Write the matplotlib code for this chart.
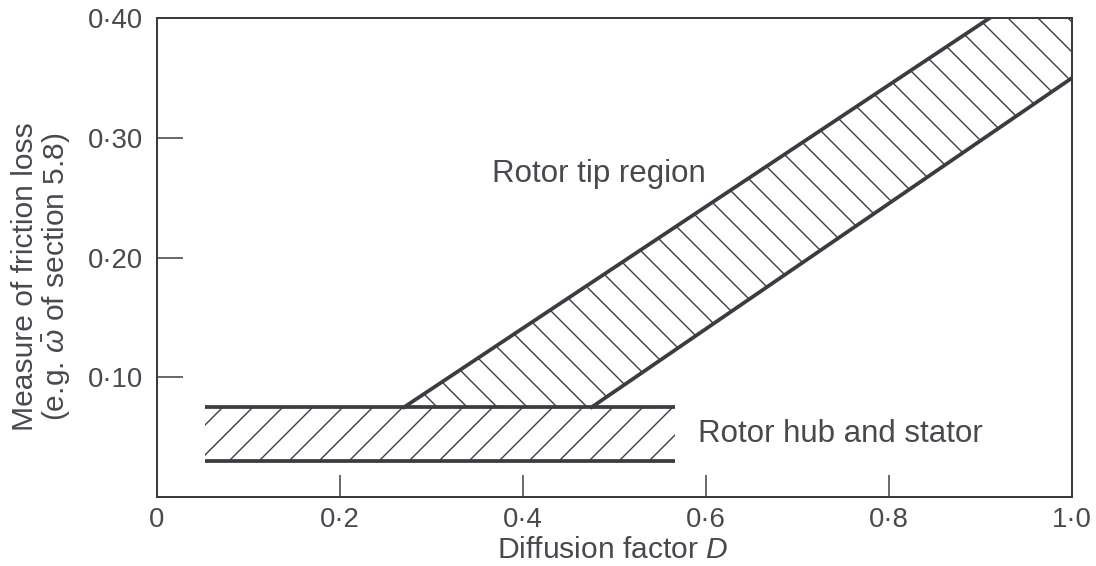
import matplotlib.pyplot as plt

# ------------------------------------------------------------
# Data
# ------------------------------------------------------------

# rotor hub and stator band (constant loss over a range of D)
HUB_D = [0.052, 0.566]
HUB_LOW = [0.030, 0.030]
HUB_HIGH = [0.075, 0.075]

# rotor tip band: two roughly parallel edges, starting at the hub band top
TIP_UPPER_D = [0.27, 0.91]
TIP_UPPER_LOSS = [0.075, 0.40]
TIP_LOWER_D = [0.475, 1.0]
TIP_LOWER_LOSS = [0.075, 0.35]

X_TICKS = [0.0, 0.2, 0.4, 0.6, 0.8, 1.0]
X_LABELS = ["0", "0·2", "0·4", "0·6", "0·8", "1·0"]
Y_TICKS = [0.10, 0.20, 0.30, 0.40]
Y_LABELS = ["0·10", "0·20", "0·30", "0·40"]

INK = "#3b3b42"
TEXT = "#48484e"

DPI = 180

plt.rcParams["font.family"] = ["Liberation Sans", "DejaVu Sans"]
plt.rcParams["mathtext.fontset"] = "custom"
plt.rcParams["mathtext.rm"] = "Liberation Sans"
plt.rcParams["mathtext.it"] = "Liberation Sans:italic"
plt.rcParams["hatch.linewidth"] = 0.55


def plot_friction_loss(out_png):
    fig = plt.figure(figsize=(1096 / DPI, 566 / DPI), dpi=DPI)
    ax = fig.add_axes([0.1432, 0.1219, 0.8350, 0.8463])

    # hub/stator band
    ax.fill_between(HUB_D, HUB_LOW, HUB_HIGH, facecolor="none",
                    edgecolor=INK, hatch="//", linewidth=0)
    ax.plot(HUB_D, HUB_HIGH, color=INK, lw=1.5, solid_capstyle="butt")
    ax.plot(HUB_D, HUB_LOW, color=INK, lw=1.5, solid_capstyle="butt")

    # tip band, clipped by the top-right corner of the frame
    poly_x = [TIP_UPPER_D[0], TIP_UPPER_D[1], TIP_LOWER_D[1],
              TIP_LOWER_D[1], TIP_LOWER_D[0]]
    poly_y = [TIP_UPPER_LOSS[0], TIP_UPPER_LOSS[1], TIP_UPPER_LOSS[1],
              TIP_LOWER_LOSS[1], TIP_LOWER_LOSS[0]]
    ax.fill(poly_x, poly_y, facecolor="none", edgecolor=INK,
            hatch="\\\\", linewidth=0)
    ax.plot(TIP_UPPER_D, TIP_UPPER_LOSS, color=INK, lw=1.5)
    ax.plot(TIP_LOWER_D, TIP_LOWER_LOSS, color=INK, lw=1.5)

    ax.text(0.366, 0.263, "Rotor tip region", fontsize=12.5, color=TEXT,
            va="baseline", ha="left")
    ax.text(0.591, 0.046, "Rotor hub and stator", fontsize=12.5, color=TEXT,
            va="baseline", ha="left")

    ax.set_xlim(0, 1.0)
    ax.set_ylim(0, 0.40)
    ax.set_xticks(X_TICKS, X_LABELS)
    ax.set_yticks(Y_TICKS, Y_LABELS)
    ax.tick_params(axis="x", direction="in", length=9, width=0.6,
                   pad=4, labelsize=11, colors=INK, labelcolor=TEXT)
    ax.tick_params(axis="y", direction="in", length=10.5, width=0.6,
                   pad=5.5, labelsize=11, colors=INK, labelcolor=TEXT)

    for spine in ax.spines.values():
        spine.set_color(INK)
        spine.set_linewidth(0.8)

    ax.set_xlabel(r"Diffusion factor $D$", fontsize=12, color=TEXT,
                  va="baseline")
    ax.xaxis.set_label_coords(0.498, -0.128)
    ax.set_ylabel("Measure of friction loss\n"
                  r"(e.g. $\bar{\omega}$ of section 5.8)",
                  fontsize=12, color=TEXT, linespacing=1.05)
    ax.yaxis.set_label_coords(-0.092, 0.46)

    fig.savefig(out_png, dpi=DPI)
    plt.close(fig)


if __name__ == "__main__":
    plot_friction_loss("out.png")
